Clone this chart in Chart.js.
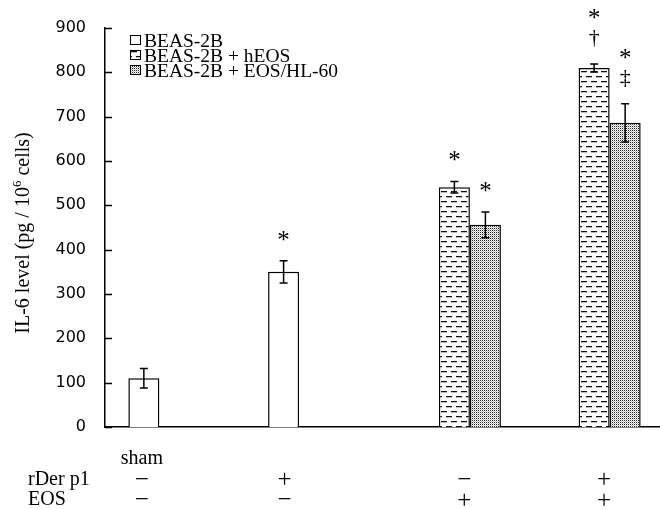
<!DOCTYPE html>
<html>
<head>
<meta charset="utf-8">
<script src="https://cdn.jsdelivr.net/npm/chart.js@4.4.0/dist/chart.umd.min.js"></script>
<style>
	html, body { margin: 0; padding: 0; background: #fff; overflow: hidden; }
	#il6-chart { display: block; }
</style>
</head>
<body>
<canvas id="il6-chart" width="666" height="509"></canvas>
<script>
// values
const groups = ['sham', 'rDer p1', 'EOS', 'rDer p1 + EOS'];
const seriesNames = ['BEAS-2B', 'BEAS-2B + hEOS', 'BEAS-2B + EOS/HL-60'];

const beas = [110, 350, null, null];
const beasErr = [22, 25, null, null];
const heos = [null, null, 541, 810];
const heosErr = [null, null, 13, 9];
const eosHl60 = [null, null, 456, 686];
const eosHl60Err = [null, null, 29, 43];

// significance marks over each bar, lowest symbol first
const beasMarks = [[], ['*'], [], []];
const heosMarks = [[], [], ['*'], ['\u2020', '*']];
const eosHl60Marks = [[], [], ['*'], ['\u2021', '*']];

const yTicks = [0, 100, 200, 300, 400, 500, 600, 700, 800, 900];
const yTitle = ['IL-6 level (pg / 10', '6', ' cells)'];

// treatment table under the x axis
const shamLabel = 'sham';
const rowNames = ['rDer p1', 'EOS'];
const rDerRow = ['\u2212', '+', '\u2212', '+'];
const eosRow = ['\u2212', '\u2212', '+', '+'];

const SERIF = '"Liberation Serif", "Times New Roman", serif';

// fill patterns
function dashPattern() {
	const c = document.createElement('canvas');
	c.width = 10; c.height = 10;
	const g = c.getContext('2d');
	g.fillStyle = '#fff';
	g.fillRect(0, 0, 10, 10);
	g.fillStyle = '#111';
	g.fillRect(1, 1, 6, 1);
	g.fillRect(6, 6, 6, 1);
	g.fillRect(-4, 6, 6, 1);
	g.fillStyle = '#bbb';
	g.fillRect(1, 2, 6, 1);
	g.fillRect(6, 7, 6, 1);
	g.fillRect(-4, 7, 6, 1);
	return g.createPattern(c, 'repeat');
}

function dotPattern() {
	const c = document.createElement('canvas');
	c.width = 2; c.height = 2;
	const g = c.getContext('2d');
	g.fillStyle = '#fff';
	g.fillRect(0, 0, 2, 2);
	g.fillStyle = '#222';
	g.fillRect(0, 0, 1, 1);
	g.fillStyle = '#bbb';
	g.fillRect(1, 1, 1, 1);
	return g.createPattern(c, 'repeat');
}

const errors = [beasErr, heosErr, eosHl60Err];
const marks = [beasMarks, heosMarks, eosHl60Marks];

// draw a glyph centred on (x, cy) using its real ink box
function glyphCentered(ctx, s, x, cy) {
	const m = ctx.measureText(s);
	const base = cy + (m.actualBoundingBoxAscent - m.actualBoundingBoxDescent) / 2;
	ctx.fillText(s, x, base);
}

const extras = {
	id: 'extras',
	afterDatasetsDraw(chart) {
		const ctx = chart.ctx;
		const y = chart.scales.y;
		const x = chart.scales.x;
		const area = chart.chartArea;
		ctx.save();

		// inward tick marks on the y axis
		ctx.strokeStyle = '#000';
		ctx.lineWidth = 1.5;
		yTicks.forEach(v => {
			const py = Math.round(y.getPixelForValue(v)) + 0.5;
			ctx.beginPath();
			ctx.moveTo(area.left, py);
			ctx.lineTo(area.left + 7, py);
			ctx.stroke();
		});

		// error bars and marks
		chart.data.datasets.forEach((ds, i) => {
			const meta = chart.getDatasetMeta(i);
			ds.data.forEach((v, j) => {
				if (v === null) return;
				const bar = meta.data[j];
				const e = errors[i][j];
				const top = y.getPixelForValue(v + e);
				const bot = y.getPixelForValue(v - e);
				ctx.strokeStyle = '#000';
				ctx.lineWidth = 1.5;
				ctx.beginPath();
				ctx.moveTo(bar.x, top);
				ctx.lineTo(bar.x, bot);
				ctx.moveTo(bar.x - 4, top);
				ctx.lineTo(bar.x + 4, top);
				ctx.moveTo(bar.x - 4, bot);
				ctx.lineTo(bar.x + 4, bot);
				ctx.stroke();

				ctx.fillStyle = '#000';
				ctx.textAlign = 'center';
				ctx.textBaseline = 'alphabetic';
				let cy = top - 25;
				marks[i][j].forEach(s => {
					ctx.font = (s === '*' ? '25px ' : '22px ') + SERIF;
					glyphCentered(ctx, s, bar.x, cy);
					cy -= 25;
				});
			});
		});

		// legend
		ctx.font = '19.5px ' + SERIF;
		ctx.textAlign = 'left';
		ctx.textBaseline = 'alphabetic';
		chart.data.datasets.forEach((ds, i) => {
			const cy = area.top + 12 + i * 15;
			const bx = area.left + 25;
			ctx.fillStyle = ds.backgroundColor;
			ctx.fillRect(bx, cy - 5, 11, 10);
			ctx.strokeStyle = '#000';
			ctx.lineWidth = 1;
			ctx.strokeRect(bx + 0.5, cy - 4.5, 10, 9);
			ctx.fillStyle = '#000';
			ctx.fillText(ds.label, bx + 14, cy + 6.5);
		});

		// y axis title with superscript
		ctx.translate(22, 233);
		ctx.rotate(-Math.PI / 2);
		const big = '20px ' + SERIF;
		const small = '13px ' + SERIF;
		ctx.font = big;
		const w0 = ctx.measureText(yTitle[0]).width;
		const w2 = ctx.measureText(yTitle[2]).width;
		ctx.font = small;
		const w1 = ctx.measureText(yTitle[1]).width;
		let tx = -(w0 + w1 + w2) / 2;
		ctx.textBaseline = 'alphabetic';
		ctx.font = big;
		ctx.fillText(yTitle[0], tx, 7);
		tx += w0;
		ctx.font = small;
		ctx.fillText(yTitle[1], tx, -1);
		tx += w1;
		ctx.font = big;
		ctx.fillText(yTitle[2], tx, 7);
		ctx.setTransform(1, 0, 0, 1, 0, 0);

		// treatment table
		const colOffsets = [-33, -30, 10, 10];
		ctx.fillStyle = '#000';
		ctx.font = '20px ' + SERIF;
		ctx.textAlign = 'center';
		glyphCentered(ctx, shamLabel, x.getPixelForValue(0) + colOffsets[0], 457);
		ctx.textAlign = 'left';
		ctx.fillText(rowNames[0], 28, 485);
		ctx.fillText(rowNames[1], 28, 505);
		ctx.textAlign = 'center';
		ctx.font = '25px ' + SERIF;
		groups.forEach((g, i) => {
			const cx = x.getPixelForValue(i) + colOffsets[i];
			glyphCentered(ctx, rDerRow[i], cx, 478.5);
			glyphCentered(ctx, eosRow[i], cx, 499);
		});
		ctx.restore();
	}
};

const data = {
	labels: groups,
	datasets: [{
		label: seriesNames[0],
		data: beas,
		backgroundColor: '#fff',
		borderColor: '#000',
		borderWidth: 1.5
	},
	{
		label: seriesNames[1],
		data: heos,
		backgroundColor: dashPattern(),
		borderColor: '#000',
		borderWidth: 1.5
	},
	{
		label: seriesNames[2],
		data: eosHl60,
		backgroundColor: dotPattern(),
		borderColor: '#000',
		borderWidth: 1.5
	}]
};

const config = {
	type: 'bar',
	data,
	options: {
		responsive: false,
		animation: false,
		categoryPercentage: 0.666,
		barPercentage: 1,
		layout: {
			padding: { top: 28, right: 2, left: 0, bottom: 0 }
		},
		plugins: {
			legend: { display: false },
			tooltip: { enabled: false }
		},
		scales: {
			x: {
				grid: { display: false },
				border: { display: true, color: '#000', width: 1.5 },
				ticks: { display: false },
				afterFit(scale) { scale.height = 82; }
			},
			y: {
				min: 0,
				max: 900,
				afterBuildTicks(scale) { scale.ticks = yTicks.map(v => ({ value: v })); },
				grid: { display: false },
				border: { display: true, color: '#000', width: 1.5 },
				ticks: {
					color: '#000',
					padding: 11,
					font: { family: '"DejaVu Sans", Verdana, sans-serif', size: 16 }
				},
				afterFit(scale) { scale.width = 105; }
			}
		}
	},
	plugins: [extras]
};

const il6Chart = new Chart(document.getElementById('il6-chart'), config);
</script>
</body>
</html>
